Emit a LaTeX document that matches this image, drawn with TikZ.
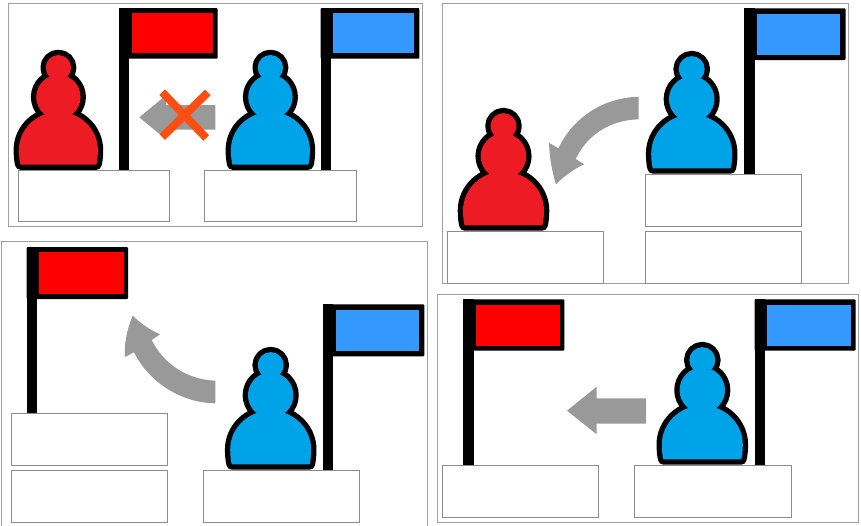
\documentclass[tikz,border=0pt]{standalone}
\definecolor{pawnred}{HTML}{ED1C24}
\definecolor{pawnblue}{HTML}{00A2E8}
\definecolor{flagred}{HTML}{FF0000}
\definecolor{flagblue}{HTML}{3399FF}
\definecolor{arrowgray}{HTML}{999999}
\definecolor{crossorange}{HTML}{FF4E11}
\definecolor{framegray}{HTML}{A0A0A0}
\definecolor{boxgray}{HTML}{8C8C8C}
\tikzset{
  framebox/.style={draw=framegray,line width=0.9pt,fill=white},
  labelbox/.style={draw=boxgray,line width=0.9pt,fill=white},
  movearrow/.style={fill=arrowgray},
  crossbar/.style={draw=crossorange,line width=8pt},
  pawnedge/.style={draw=black,line width=10.6pt,line join=round},
}
% pawn: x, base y, colour, scale (paths are the inner boundary; a wide stroke under the fill gives the outline)
\newcommand{\pawnparts}[1]{%
  #1 (-38,-5.5) .. controls (-39,-9) and (-39.5,-15) .. (-39.5,-20)
     .. controls (-39.5,-41) and (-21.8,-58) .. (0,-58)
     .. controls (21.8,-58) and (39.5,-41) .. (39.5,-20)
     .. controls (39.5,-15) and (39,-9) .. (38,-5.5) -- cycle;
  #1 (0,-73) circle[radius=22.2pt];
  #1 (0,-102.3) circle[radius=12.7pt];}
\newcommand{\drawpawn}[4]{%
  \begin{scope}[shift={(#1,#2)},scale=#4]
    \pawnparts{\path[pawnedge]}
    \pawnparts{\fill[#3]}
  \end{scope}}
% flag: pole left x, top y, bottom y, colour, outer width, outer height, interior x0, x1, y1
\newcommand{\drawflag}[9]{%
  \fill[black] (#1,#2) rectangle ++(10.3,#3-#2);
  \fill[black,rounded corners=1pt] (#1,#2) rectangle ++(#5,#6);
  \fill[#4] (#1+#7,#2+5.2) rectangle (#1+#8,#2+#9);}
\begin{document}
\begin{tikzpicture}[x=1pt,y=-1pt]
\useasboundingbox (0,0) rectangle (861,525);
% frames
\draw[framebox] (8.5,3) rectangle (422,226.7);
\draw[framebox] (442.3,3) rectangle (848,283.7);
\draw[framebox] (1,525.5) -- (1,241.7) -- (427,241.7) -- (427,525.5);
\draw[framebox] (437.3,294) rectangle (858.7,522.7);
% panel 1
\drawpawn{58.4}{170}{pawnred}{1}
\drawpawn{270.4}{170}{pawnblue}{1}
\drawflag{119}{8}{170}{flagred}{98.7}{50.7}{13}{93.7}{45.3}
\drawflag{320.7}{8}{170}{flagblue}{98.7}{50.7}{12.7}{93.3}{45.3}
\fill[movearrow] (139.3,117.3) -- (166,95.3) -- (166,105) -- (215.3,105) -- (215.3,129.7) -- (166,129.7) -- (166,139.3) -- cycle;
\draw[crossbar] (162.2,92.2) -- (206.3,138);
\draw[crossbar] (207.8,92.5) -- (162.2,137);
\draw[labelbox] (18.3,170.3) rectangle (169.7,221.3);
\draw[labelbox] (204.7,170.3) rectangle (356.3,221.3);
% panel 2
\drawpawn{691.7}{174}{pawnblue}{1.025}
\drawflag{744.3}{8.3}{174}{flagblue}{101.4}{51.7}{12.4}{96}{46.7}
\drawpawn{503.5}{231}{pawnred}{1.025}
\fill[movearrow] (638.7,96.7) .. controls (600,98) and (572,120) .. (558.3,148.3)
  -- (549,142.7) .. controls (549.5,157) and (552,172) .. (556,184.3)
  .. controls (564,176) and (574,169) .. (584,164.3)
  -- (575.7,159) .. controls (587,135) and (610,120) .. (638.7,119.3) -- cycle;
\draw[labelbox] (447.3,231) rectangle (603.7,283.7);
\draw[labelbox] (645.3,174.3) rectangle (801.3,226.3);
\draw[labelbox] (645.3,231) rectangle (801.3,283.7);
% panel 3
\drawflag{26.7}{247}{413.3}{flagred}{101.3}{52}{12.6}{97}{47.3}
\drawflag{323}{304.3}{470}{flagblue}{101.3}{52}{12.7}{96.3}{47}
\drawpawn{270.7}{470}{pawnblue}{1.025}
\fill[movearrow] (215.3,380.7) .. controls (186,379.5) and (163,363) .. (151.7,340)
  -- (160,334.3) .. controls (150,330) and (140,323) .. (132.7,315.7)
  .. controls (127,329) and (124,344) .. (125,357)
  -- (134,352.3) .. controls (150,384) and (183,403) .. (215.3,403.3) -- cycle;
\draw[labelbox] (11,413.3) rectangle (167.3,465.3);
\draw[labelbox] (11,470.3) rectangle (167.3,522.3);
\draw[labelbox] (203.3,470.3) rectangle (359.3,522.3);
% panel 4
\drawflag{463.3}{299.3}{465}{flagred}{101}{51.4}{13}{96.7}{47}
\drawflag{754.7}{299.3}{465}{flagblue}{101}{51.4}{12.6}{96}{47}
\drawpawn{702.3}{465}{pawnblue}{1.025}
\fill[movearrow] (567,410.7) -- (596.7,386.7) -- (596.7,398.3) -- (646,398.3) -- (646,423.7) -- (596.7,423.7) -- (596.7,434.3) -- cycle;
\draw[labelbox] (442.3,465.3) rectangle (598.3,517.3);
\draw[labelbox] (634.7,465.3) rectangle (791,517.3);
\end{tikzpicture}
\end{document}
